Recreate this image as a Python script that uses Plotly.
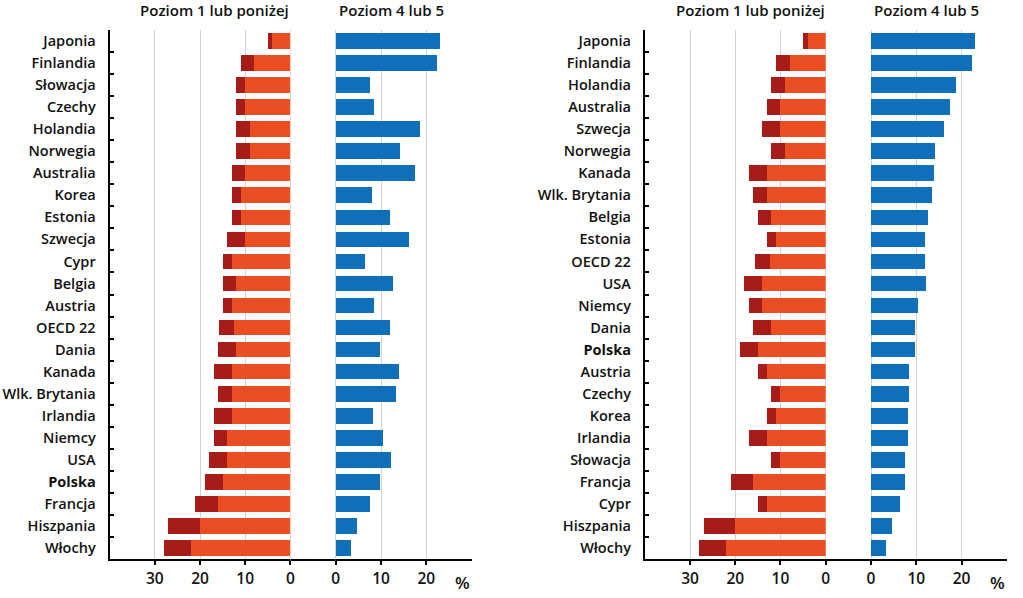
import plotly.graph_objects as go

# ---- data ----
countries = ["Japonia", "Finlandia", "Słowacja", "Czechy", "Holandia", "Norwegia",
             "Australia", "Korea", "Estonia", "Szwecja", "Cypr", "Belgia", "Austria",
             "OECD 22", "Dania", "Kanada", "Wlk. Brytania", "Irlandia", "Niemcy",
             "USA", "Polska", "Francja", "Hiszpania", "Włochy"]
level1 = [4, 8, 10, 10, 9, 9, 10, 11, 11, 10, 13, 12, 13,
          12.4, 12, 13, 13, 13, 14, 14, 15, 16, 20, 22]
below1 = [1, 3, 2, 2, 3, 3, 3, 2, 2, 4, 2, 3, 2,
          3.3, 4, 4, 3, 4, 3, 4, 4, 5, 7, 6]
level45 = [23.0, 22.3, 7.5, 8.4, 18.7, 14.1, 17.4, 8.1, 11.9, 16.1, 6.5, 12.7, 8.4,
           12.0, 9.8, 14.0, 13.4, 8.2, 10.4, 12.2, 9.8, 7.5, 4.7, 3.4]

order_left = ["Japonia", "Finlandia", "Słowacja", "Czechy", "Holandia", "Norwegia",
              "Australia", "Korea", "Estonia", "Szwecja", "Cypr", "Belgia", "Austria",
              "OECD 22", "Dania", "Kanada", "Wlk. Brytania", "Irlandia", "Niemcy",
              "USA", "Polska", "Francja", "Hiszpania", "Włochy"]
order_right = ["Japonia", "Finlandia", "Holandia", "Australia", "Szwecja", "Norwegia",
               "Kanada", "Wlk. Brytania", "Belgia", "Estonia", "OECD 22", "USA",
               "Niemcy", "Dania", "Polska", "Austria", "Czechy", "Korea", "Irlandia",
               "Słowacja", "Francja", "Cypr", "Hiszpania", "Włochy"]

title_low = "Poziom 1 lub poniżej"
title_high = "Poziom 4 lub 5"
low_ticks = [0, 10, 20, 30]
high_ticks = [0, 10, 20]
highlight = "Polska"

# ---- style ----
ORANGE = "#EA4F24"
DARKRED = "#A51C19"
BLUE = "#0F6FB9"
FONT = "Open Sans"
W, H = 1023, 598

idx = {c: i for i, c in enumerate(countries)}

fig = go.Figure()

panels = [
    dict(order=order_left, xl="x", xh="x2", y="y"),
    dict(order=order_right, xl="x3", xh="x4", y="y2"),
]

for p in panels:
    order = p["order"]
    fig.add_trace(go.Bar(y=order, x=[level1[idx[c]] for c in order], orientation="h",
                         marker=dict(color=ORANGE, line=dict(width=0)),
                         xaxis=p["xl"], yaxis=p["y"], showlegend=False))
    fig.add_trace(go.Bar(y=order, x=[below1[idx[c]] for c in order], orientation="h",
                         marker=dict(color=DARKRED, line=dict(width=0)),
                         xaxis=p["xl"], yaxis=p["y"], showlegend=False))
    fig.add_trace(go.Bar(y=order, x=[level45[idx[c]] for c in order], orientation="h",
                         marker=dict(color=BLUE, line=dict(width=0)),
                         xaxis=p["xh"], yaxis=p["y"], showlegend=False))

ydom = [(H - 559) / H, (H - 30) / H]
px = lambda v: v / W
doms = {
    "x": [px(106.5), px(289)], "x2": [px(334.7), px(471.7)],
    "x3": [px(646.5), px(829)], "x4": [px(874.7), px(1011.7)],
}

tickfont = dict(family=FONT, size=15.5, color="#111", weight=600)
lblfont = dict(family=FONT, size=14.5, color="#111", weight=600)
titlefont = dict(family=FONT, size=15, color="#111", weight=600)

def low_axis(dom, anchor):
    return dict(domain=dom, anchor=anchor, range=[40, 0], tickmode="array",
                tickvals=low_ticks, ticks="outside", ticklen=4, tickwidth=2,
                tickcolor="black", showgrid=True, gridcolor="#D3D3D3", gridwidth=1,
                zeroline=True, zerolinecolor="#F9CDBF", zerolinewidth=1,
                showline=True, linecolor="black", linewidth=2, tickfont=tickfont,
                fixedrange=True)

def high_axis(dom, anchor):
    return dict(domain=dom, anchor=anchor, range=[0, 30], tickmode="array",
                tickvals=high_ticks, ticks="outside", ticklen=4, tickwidth=2,
                tickcolor="black", showgrid=True, gridcolor="#D3D3D3", gridwidth=1,
                zeroline=True, zerolinecolor="#C9D6E3", zerolinewidth=1,
                showline=True, linecolor="black", linewidth=2, tickfont=tickfont,
                fixedrange=True)

def y_axis(order, anchor):
    return dict(domain=ydom, anchor=anchor, type="category", categoryorder="array",
                categoryarray=order, autorange="reversed", tickmode="array",
                tickvals=order,
                ticktext=[f"<b>{c}</b>" if c == highlight else c for c in order],
                ticks="inside", tickson="boundaries", ticklen=4, tickwidth=2,
                tickcolor="black", showline=True, linecolor="black", linewidth=2,
                showgrid=False, tickfont=lblfont, ticklabelstandoff=9, fixedrange=True)

fig.update_layout(
    width=W, height=H, margin=dict(l=0, r=0, t=0, b=0),
    paper_bgcolor="white", plot_bgcolor="white",
    barmode="stack", bargap=0.29,
    font=dict(family=FONT, color="#111"),
    xaxis=low_axis(doms["x"], "y"),
    xaxis2=high_axis(doms["x2"], "y"),
    xaxis3=low_axis(doms["x3"], "y2"),
    xaxis4=high_axis(doms["x4"], "y2"),
    yaxis=y_axis(order_left, "x"),
    yaxis2=y_axis(order_right, "x3"),
)

# connect bottom axis lines across the gap, titles, % labels
for a, b in [("x", "x2"), ("x3", "x4")]:
    fig.add_shape(type="line", xref="paper", yref="paper",
                  x0=doms[a][1], x1=doms[b][0], y0=ydom[0] - 1 / H, y1=ydom[0] - 1 / H,
                  line=dict(color="black", width=2))
    fig.add_annotation(text=title_low, xref="paper", yref="paper",
                       x=doms[a][1] + 1 / W, y=(H - 10) / H, xanchor="right", yanchor="middle",
                       showarrow=False, font=titlefont)
    fig.add_annotation(text=title_high, xref="paper", yref="paper",
                       x=doms[b][0] + 1 / W, y=(H - 10) / H, xanchor="left", yanchor="middle",
                       showarrow=False, font=titlefont)
    fig.add_annotation(text="%", xref="paper", yref="paper",
                       x=doms[b][1] - 9 / W, y=(H - 582) / H, xanchor="center", yanchor="middle",
                       showarrow=False, font=dict(family=FONT, size=17, weight=600, color="#111"))

fig.write_html("out.html")
